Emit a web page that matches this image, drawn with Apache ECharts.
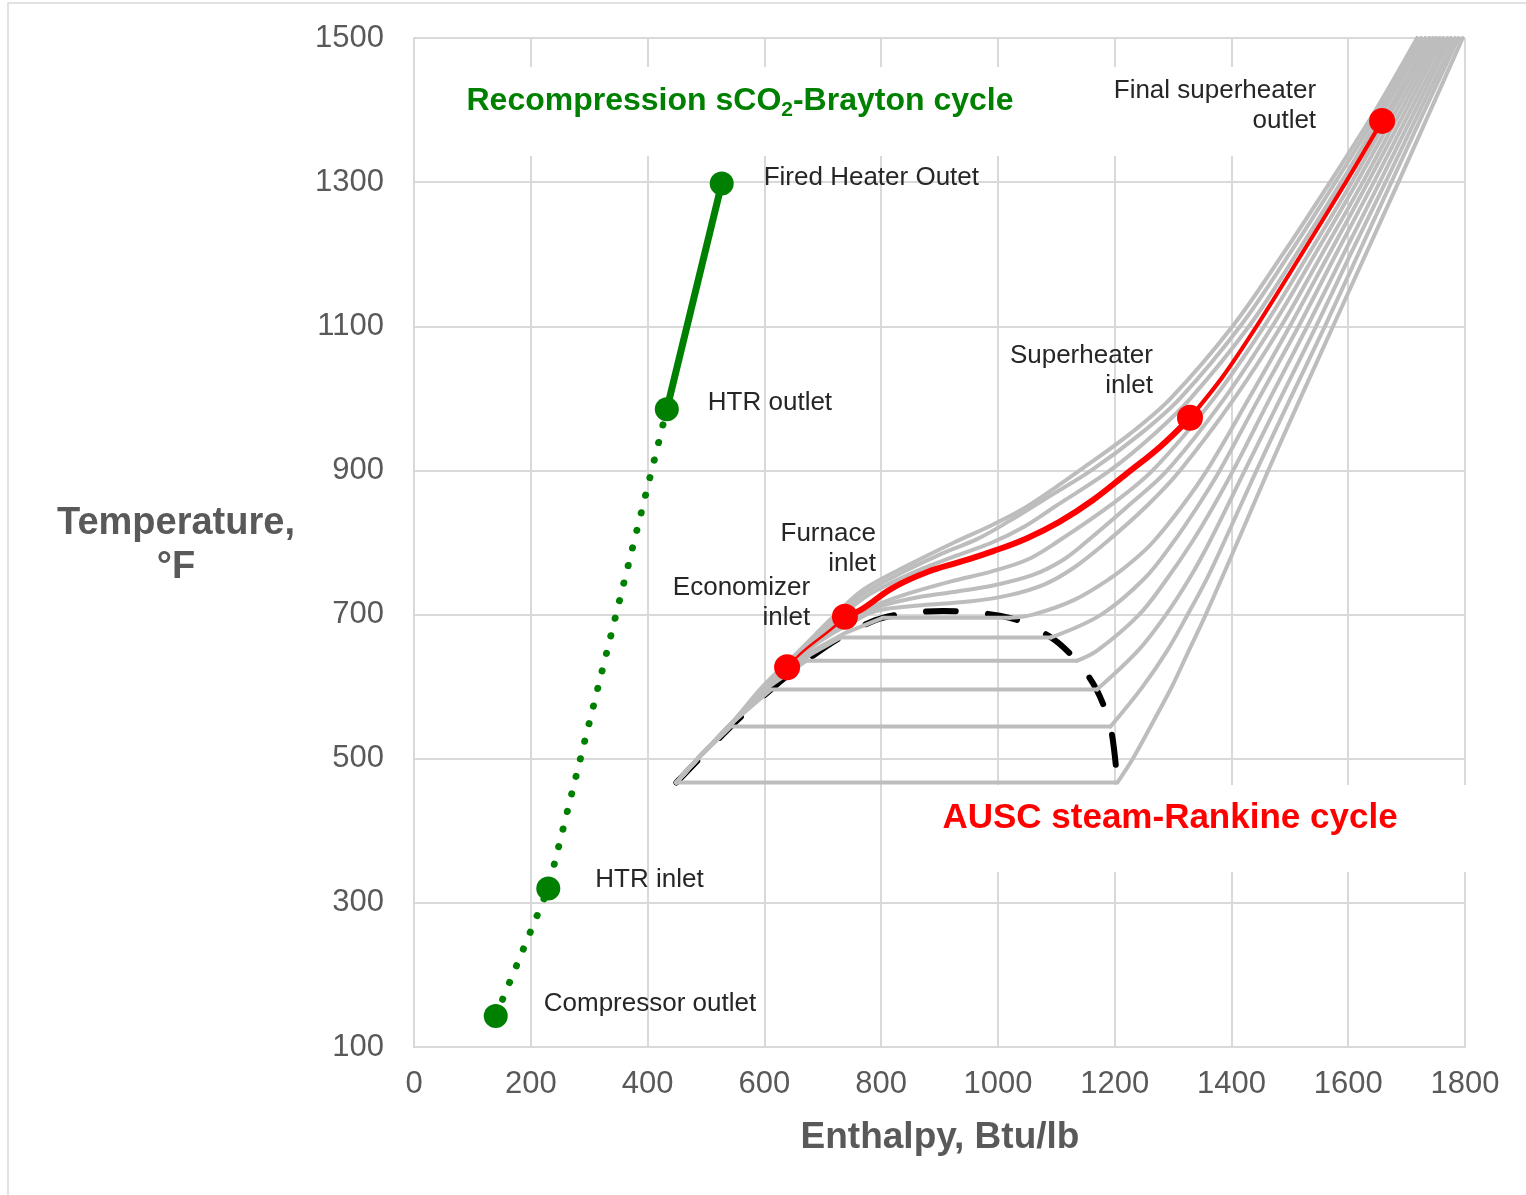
<!DOCTYPE html>
<html>
<head>
<meta charset="utf-8">
<title>T-h diagram: sCO2-Brayton and AUSC steam-Rankine</title>
<script src="https://cdn.jsdelivr.net/npm/echarts@6.0.0/dist/echarts.min.js"></script>
<style>
  html, body { margin: 0; padding: 0; background: #fff; }
  #chart { width: 1526px; height: 1195px; }
</style>
</head>
<body>
<div id="chart"></div>
<script>
// axis ticks
const xTicks = [0, 200, 400, 600, 800, 1000, 1200, 1400, 1600, 1800];
const yTicks = [100, 300, 500, 700, 900, 1100, 1300, 1500];

// saturation dome [enthalpy Btu/lb, temperature F]
const dome = [[449.5,467],[542.6,544.6],[611.6,596.2],[671.7,635.8],[730.8,668.3],[802.5,695.5],[906,705.1],
  [1020.3,695.5],[1091.1,668.3],[1135,635.8],[1168.8,596.2],[1192.9,544.6],[1204.7,467]];

// steam isobars (gray), 500 ... 6500 psia
const p500 = [[449.5,467],[1204.7,467],[1231,500],[1265,550],[1298,600],[1327,650],[1356,700],[1410,800],
  [1463,900],[1518,1000],[1574,1100],[1630,1200],[1686,1300],[1741,1400],[1796,1500]];
const p1000 = [[449.5,467],[486,500],[542.6,544.6],[1192.9,544.6],[1248,600],[1290,650],[1325,700],[1358,750],[1387,800],
  [1443,900],[1501,1000],[1560,1100],[1617,1200],[1674,1300],[1731,1400],[1789,1500]];
const p1500 = [[449.5,467],[486,500],[545,550],[611.6,596.2],[1169.8,596.2],[1240,650],[1288,700],[1328,750],[1362,800],
  [1423,900],[1484,1000],[1545,1100],[1604,1200],[1664,1300],[1723,1400],[1783,1500]];
const p2000 = [[449.5,467],[486,500],[545,550],[608,600],[671.7,635.8],[1135,635.8],[1170,650],[1242,700],[1290,750],[1332,800],
  [1369,850],[1403,900],[1466,1000],[1530,1100],[1592,1200],[1654,1300],[1715,1400],[1776,1500]];
const p2500 = [[449.5,467],[486,500],[545,550],[607,600],[680,645],[730.8,668.3],[1091.1,668.3],[1177,700],[1251,750],[1300,800],
  [1342,850],[1380,900],[1447,1000],[1515,1100],[1579,1200],[1644,1300],[1707,1400],[1770,1500]];
const p3000 = [[449.5,467],[486,500],[545,550],[606,600],[672,645],[740,675],[802.5,695.5],[1020.3,695.5],[1060,700],[1130,720],
  [1192,750],[1232,775],[1265,800],[1315,850],[1358,900],[1430,1000],[1500,1100],[1567,1200],[1634,1300],[1699,1400],[1763,1500]];
const p3500 = [[449.5,467],[486,500],[545,550],[605,600],[672,650],[775,700],[810,708],[870,713],[950,718],[1020,727],[1080,742],
  [1130,765],[1185,800],[1254,850],[1312,900],[1405,1000],[1485,1100],[1555,1200],[1625,1300],[1691,1400],[1757,1500]];
const p4000 = [[449.5,467],[486,500],[545,550],[604,600],[670,650],[765,700],[800,712],[850,722],[920,731],[990,740],[1060,755],
  [1110,775],[1150,800],[1222,850],[1290,900],[1388,1000],[1470,1100],[1543,1200],[1615,1300],[1683,1400],[1751,1500]];
const p4500 = [[449.5,467],[486,500],[545,550],[603,600],[669,650],[755,700],[800,716],[850,730],[920,746],[990,760],[1050,776],
  [1100,800],[1190,850],[1265,900],[1370,1000],[1456,1100],[1532,1200],[1606,1300],[1675,1400],[1745,1500]];
const p5000 = [[449.5,467],[486,500],[545,550],[603,600],[639,627],[668,650],[715,680],[738,697],[764,706],[820,737],[879,759],
  [935,773],[992,788],[1050,806],[1106,829],[1163,859],[1221,896],[1278,933],[1329,973],[1385,1030],[1443,1100],[1520,1200],
  [1596,1300],[1658,1385],[1669,1400],[1739,1500]];
const p5500 = [[449.5,467],[486,500],[545,550],[601,600],[666,650],[735,700],[780,728],[860,760],[930,782],[990,800],[1045,822],
  [1098,850],[1192,900],[1267,950],[1330,1000],[1430,1100],[1511,1200],[1588,1300],[1661,1400],[1732,1500]];
const p6000 = [[449.5,467],[486,500],[545,550],[599,600],[663,650],[728,700],[772,730],[840,760],[905,785],[965,805],[1020,830],
  [1080,860],[1160,900],[1243,950],[1312,1000],[1415,1100],[1499,1200],[1578,1300],[1654,1400],[1725,1500]];
const p6500 = [[449.5,467],[486,500],[545,550],[597,600],[660,650],[722,700],[770,735],[850,770],[925,800],[992,825],[1050,850],
  [1140,900],[1225,950],[1296,1000],[1402,1100],[1488,1200],[1569,1300],[1647,1400],[1718,1500]];

// AUSC steam-Rankine path (red)
const auscEcon = [[639,627],[668,650],[715,680],[738,697]];
const auscFurnace = [[738,697],[764,706],[820,737],[879,759],[935,773],[992,788],[1050,806],[1106,829],[1163,859],
  [1221,896],[1278,933],[1329,973]];
const auscSH = [[1329,973],[1385,1030],[1443,1100],[1520,1200],[1596,1300],[1658,1385]];
const auscPoints = [
  { name: 'Economizer\ninlet', value: [639, 627], dx: 23, dy: -64, align: 'right' },
  { name: 'Furnace\ninlet', value: [738, 697], dx: 31, dy: -68, align: 'right' },
  { name: 'Superheater\ninlet', value: [1329, 973], dx: -37, dy: -47, align: 'right' },
  { name: 'Final superheater\noutlet', value: [1658, 1385], dx: -66, dy: -15, align: 'right' }
];

// sCO2 Brayton path (green)
const sco2Dotted = [[140,143],[230,320],[433,985]];
const sco2Solid = [[433,985],[527,1298]];
const sco2Points = [
  { name: 'Compressor outlet', value: [140, 143], dx: 48, dy: -12, align: 'left' },
  { name: 'HTR inlet', value: [230, 320], dx: 47, dy: -9, align: 'left' },
  { name: 'HTR outlet', value: [433, 985], dx: 41, dy: -6, align: 'left' },
  { name: 'Fired Heater Outet', value: [527, 1298], dx: 42, dy: -6, align: 'left' }
];

const FONT = '"Liberation Sans", Arial, sans-serif';
const GRID = '#d9d9d9';
const GRAY = '#bdbdbd';

const chart = echarts.init(document.getElementById('chart'));

function curve(data, smooth, color, width, z, type) {
  return {
    type: 'line', data: data, showSymbol: false, symbol: 'none', smooth: smooth, z: z,
    silent: true, animation: false,
    lineStyle: { color: color, width: width, type: type || 'solid', cap: 'round', join: 'round' }
  };
}

const series = [];
series.push(curve(dome, 0.3, '#000', 6, 2, [30, 32]));

[p500, p1000, p1500, p2000, p2500, p3000, p3500, p4000, p4500, p5000, p5500, p6000, p6500].forEach(pts => {
  // split subcritical isobars at the end of the flat two-phase segment
  let k = -1;
  for (let i = 1; i < pts.length; i++) {
    if (pts[i][1] === pts[i - 1][1]) { k = i; break; }
  }
  if (k > 0) {
    series.push(curve(pts.slice(0, k + 1), false, GRAY, 4, 3));
    series.push(curve(pts.slice(k), 0.35, GRAY, 4, 3));
  } else {
    series.push(curve(pts, 0.35, GRAY, 4, 3));
  }
});

series.push(curve(auscEcon, 0.4, '#ff0000', 2.5, 4));
series.push(curve(auscFurnace, 0.4, '#ff0000', 6, 4));
series.push(curve(auscSH, 0.3, '#ff0000', 4, 4));
series.push(curve(sco2Dotted, false, '#008000', 7, 4, [0.1, 18]));
series.push(curve(sco2Solid, false, '#008000', 7, 4));

function markers(points, color, size) {
  return {
    type: 'scatter', symbol: 'circle', symbolSize: size, z: 6, animation: false,
    itemStyle: { color: color, opacity: 1 },
    emphasis: { disabled: true },
    data: points.map(p => ({
      name: p.name, value: p.value,
      label: {
        show: true, position: 'inside', formatter: '{b}', offset: [p.dx, p.dy],
        align: p.align, verticalAlign: 'middle', color: '#262626',
        fontSize: 26, lineHeight: 30, fontFamily: FONT
      }
    }))
  };
}
series.push(markers(sco2Points, '#008000', 24));
series.push(markers(auscPoints, '#ff0000', 26));

chart.setOption({
  backgroundColor: '#fff',
  animation: false,
  grid: { left: 414, right: 61, top: 38, bottom: 148 },
  xAxis: {
    type: 'value', min: xTicks[0], max: xTicks[xTicks.length - 1], interval: 200,
    axisLine: { show: true, lineStyle: { color: GRID, width: 2 } },
    axisTick: { show: false },
    splitLine: { show: true, lineStyle: { color: GRID, width: 2 } },
    axisLabel: { color: '#595959', fontSize: 31, fontFamily: FONT, margin: 22, formatter: v => String(v) }
  },
  yAxis: {
    type: 'value', min: 100, max: yTicks[yTicks.length - 1], interval: 100,
    axisLine: { show: true, lineStyle: { color: GRID, width: 2 } },
    axisTick: { show: false },
    splitLine: { show: true, lineStyle: { color: [GRID, 'rgba(0,0,0,0)'], width: 2 } },
    axisLabel: {
      color: '#595959', fontSize: 31, fontFamily: FONT, margin: 30,
      formatter: v => (yTicks.indexOf(v) >= 0 ? String(v) : '')
    }
  },
  graphic: [
    { type: 'rect', z: 0, silent: true, shape: { x: 8, y: 3, width: 1600, height: 1300 },
      style: { fill: 'none', stroke: GRID, lineWidth: 1.5 } },
    { type: 'rect', z: 1, silent: true, shape: { x: 440, y: 67, width: 600, height: 89 }, style: { fill: '#fff' } },
    { type: 'rect', z: 1, silent: true, shape: { x: 1095, y: 67, width: 240, height: 89 }, style: { fill: '#fff' } },
    { type: 'rect', z: 1, silent: true, shape: { x: 920, y: 785, width: 560, height: 87 }, style: { fill: '#fff' } },
    { type: 'text', z: 10, x: 740, y: 101, silent: true,
      style: {
        text: '{a|Recompression sCO}{b|2}{a|-Brayton cycle}',
        align: 'center', verticalAlign: 'middle', textAlign: 'center', textVerticalAlign: 'middle',
        rich: {
          a: { fontSize: 32, fontWeight: 'bold', fontFamily: FONT, fill: '#008000', color: '#008000', lineHeight: 40, verticalAlign: 'middle' },
          b: { fontSize: 21, fontWeight: 'bold', fontFamily: FONT, fill: '#008000', color: '#008000', lineHeight: 21, verticalAlign: 'bottom' }
        }
      } },
    { type: 'text', z: 10, x: 1170, y: 818, silent: true,
      style: {
        text: 'AUSC steam-Rankine cycle', fill: '#ff0000', fontSize: 35, fontWeight: 'bold', fontFamily: FONT,
        align: 'center', verticalAlign: 'middle', textAlign: 'center', textVerticalAlign: 'middle'
      } },
    { type: 'text', z: 10, x: 940, y: 1138, silent: true,
      style: {
        text: 'Enthalpy, Btu/lb', fill: '#595959', fontSize: 37, fontWeight: 'bold', fontFamily: FONT,
        align: 'center', verticalAlign: 'middle', textAlign: 'center', textVerticalAlign: 'middle'
      } },
    { type: 'text', z: 10, x: 176, y: 546, silent: true,
      style: {
        text: 'Temperature,\n°F', fill: '#595959', fontSize: 38, fontWeight: 'bold', fontFamily: FONT, lineHeight: 44,
        align: 'center', verticalAlign: 'middle', textAlign: 'center', textVerticalAlign: 'middle'
      } }
  ],
  series: series
});
</script>
</body>
</html>
